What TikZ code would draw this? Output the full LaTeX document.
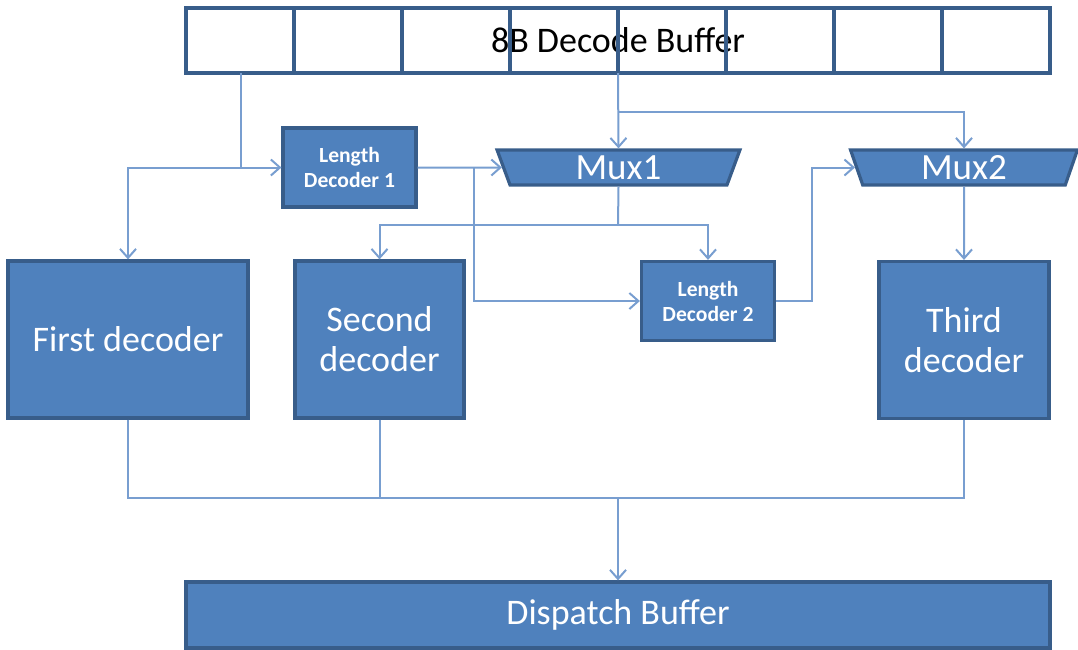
\documentclass[tikz,border=0pt]{standalone}
\usepackage{fontspec}
\setmainfont{Carlito}
\usetikzlibrary{arrows.meta,shapes.geometric}
\definecolor{boxfill}{RGB}{79,129,189}
\definecolor{boxline}{RGB}{56,93,138}
\definecolor{wirecol}{RGB}{120,158,208}
\tikzset{
  blk/.style={draw=boxline,fill=boxfill,line width=1.6pt,text=white,align=center,inner sep=0pt},
  lendec/.style={blk,minimum width=66.5pt,minimum height=39.5pt,font=\fontsize{10.8}{12.5}\selectfont\bfseries},
  dec/.style={blk,minimum height=78.5pt,font=\fontsize{18}{20}\selectfont},
  mux/.style={blk,trapezium,shape border rotate=180,trapezium stretches=true,
    trapezium angle=78,minimum height=17.5pt,font=\fontsize{18.5}{20}\selectfont},
  wire/.style={draw=wirecol,line width=1pt},
  feed/.style={wire,-{Straight Barb[length=4.5pt,width=8pt]}},
}
\begin{document}
\begin{tikzpicture}[x=0.5pt,y=-0.5pt]
  \useasboundingbox (0,0) rectangle (1078,649);
  % input buffer with its eight byte cells
  \node[draw=boxline,line width=2pt,fill=white,minimum width=432pt,minimum height=32.5pt,
    inner sep=0pt,font=\fontsize{18}{20}\selectfont] (buf) at (618,40.5) {8B Decode Buffer};
  \foreach \xc in {294,402,...,942}
    \draw[boxline,line width=2pt] (\xc,8) -- (\xc,73);
  % decoders and muxes
  \node[lendec] (ld1) at (349.5,167.5) {Length\\Decoder 1};
  \node[mux,minimum width=121.5pt] (mux1) at (618.5,167.5) {Mux1};
  \node[mux,minimum width=114pt] (mux2) at (964,167.5) {Mux2};
  \node[lendec] (ld2) at (708,301) {Length\\Decoder 2};
  \node[dec,minimum width=120pt] (first) at (128,339.5) {First decoder};
  \node[dec,minimum width=84.5pt] (second) at (379.5,339.5) {Second\\decoder};
  \node[dec,minimum width=85pt] (third) at (964,340) {Third\\decoder};
  \node[blk,minimum width=432pt,minimum height=33pt,font=\fontsize{18}{20}\selectfont] (disp) at (618,615) {Dispatch Buffer};
  % taps and bends
  \coordinate (tapA) at (241,73);
  \coordinate (tapB) at (618,73);
  \coordinate (fork) at (618,112);
  \coordinate (split) at (474,167.5);
  \coordinate (muxout) at (618,225);
  \coordinate (bus) at (618,498);
  % wiring
  \draw[feed] (tapA) |- (ld1.west);
  \draw[feed] (tapA |- ld1.west) -| (first.north);
  \draw[feed] (ld1.east) -- (mux1.west);
  \draw[feed] (split) |- (ld2.west);
  \draw[feed] (tapB) -- (mux1.north);
  \draw[feed] (fork) -| (mux2.north);
  \draw[wire] (mux1.south) -- (muxout);
  \draw[feed] (muxout) -| (second.north);
  \draw[feed] (muxout) -| (ld2.north);
  \draw[feed] (ld2.east) -- ++(36,0) |- (mux2.west);
  \draw[feed] (mux2.south) -- (third.north);
  \draw[wire] (first.south) |- (bus);
  \draw[wire] (third.south) |- (bus);
  \draw[wire] (second.south) -- (second.south |- bus);
  \draw[feed] (bus) -- (disp.north);
\end{tikzpicture}
\end{document}
